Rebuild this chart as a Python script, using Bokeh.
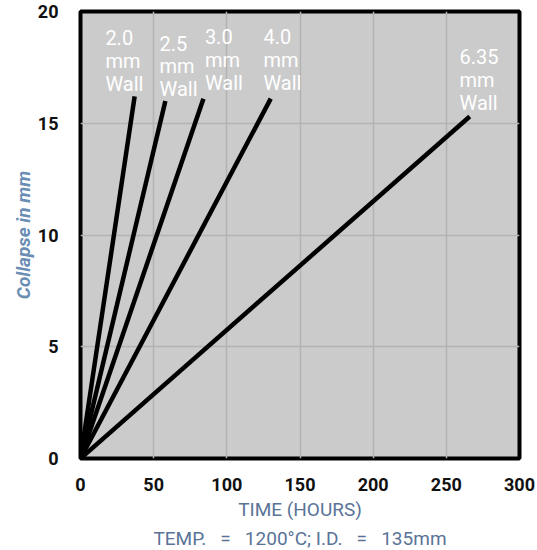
from bokeh.plotting import figure
from bokeh.models import Range1d, FixedTicker, Title
from bokeh.core.properties import value
from bokeh.embed import file_html
from bokeh.resources import INLINE

# data
wall = ["2.0", "2.5", "3.0", "4.0", "6.35"]
end_hours = [37, 58, 84, 130, 266]
end_collapse = [16.2, 16.0, 16.1, 16.1, 15.3]
label_hours = [17, 54, 85, 125, 259]
label_collapse = [19.35, 19.1, 19.4, 19.4, 18.5]
x_ticks = [0, 50, 100, 150, 200, 250, 300]
y_ticks = [0, 5, 10, 15, 20]

FONT = "Roboto"
NB = "\u00a0"
SP = NB * 3
AXIS_BLUE = "#5a7397"

p = figure(width=537, height=550, x_range=Range1d(0, 300), y_range=Range1d(0, 20),
           output_backend="svg", toolbar_location=None,
           min_border_left=80, min_border_right=18, min_border_top=11, min_border_bottom=90)
p.background_fill_color = "#cbcbcb"
p.border_fill_color = "white"
p.outline_line_color = "black"
p.outline_line_width = 4

p.xgrid.ticker = FixedTicker(ticks=x_ticks)
p.ygrid.ticker = FixedTicker(ticks=y_ticks)
p.grid.grid_line_color = "#b3b3b3"
p.grid.grid_line_width = 1.5

p.multi_line(xs=[[0, h] for h in end_hours], ys=[[0, c] for c in end_collapse],
             line_color="black", line_width=4.5)

p.text(x=label_hours, y=label_collapse, text=[f"{w}\nmm\nWall" for w in wall],
       text_color="white", text_font=value(FONT), text_font_size="20px",
       text_baseline="top", text_align="left", text_line_height=0.95)

for ax in (p.xaxis, p.yaxis):
    ax.axis_line_color = None
    ax.major_tick_line_color = None
    ax.minor_tick_line_color = None
    ax.major_label_text_font = FONT
    ax.major_label_text_font_style = "bold"
    ax.major_label_text_font_size = "18px"
    ax.major_label_text_color = "#111111"

p.xaxis.ticker = FixedTicker(ticks=x_ticks)
p.yaxis.ticker = FixedTicker(ticks=y_ticks)
p.xaxis.major_label_standoff = 13
p.yaxis.major_label_standoff = 16

p.xaxis.axis_label = "TIME (HOURS)"
p.xaxis.axis_label_text_font = FONT
p.xaxis.axis_label_text_font_style = "normal"
p.xaxis.axis_label_text_font_size = "19px"
p.xaxis.axis_label_text_color = AXIS_BLUE
p.xaxis.axis_label_standoff = 4

note = Title(text=f"TEMP.{SP}={SP}1200\u00b0C; I.D.{SP}={SP}135mm", align="center",
             text_font=FONT, text_font_style="normal", text_font_size="19px",
             text_color=AXIS_BLUE, standoff=2, offset=0)
p.add_layout(note, "below")

p.yaxis.axis_label = "Collapse in mm"
p.yaxis.axis_label_text_font = FONT
p.yaxis.axis_label_text_font_style = "bold italic"
p.yaxis.axis_label_text_font_size = "19px"
p.yaxis.axis_label_text_color = "#6a8db3"
p.yaxis.axis_label_standoff = 0

open("out.html", "w").write(file_html(p, INLINE))
